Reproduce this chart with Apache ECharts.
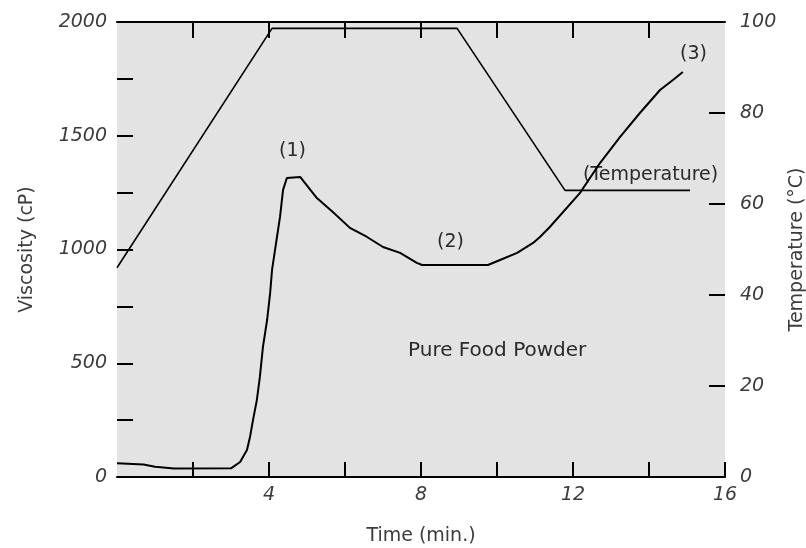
<!DOCTYPE html>
<html>
<head>
<meta charset="utf-8">
<script src="https://cdn.jsdelivr.net/npm/echarts@6/dist/echarts.min.js"></script>
<style>
html,body{margin:0;padding:0;background:#fff;}
#chart{width:806px;height:548px;}
</style>
</head>
<body>
<div id="chart"></div>
<script>
// Time (min.) and viscosity (cP) of the viscosity curve
var viscTime  = [0, 0.7, 1.0, 1.5, 3.0, 3.24, 3.42, 3.5, 3.58, 3.68, 3.76, 3.84, 3.95, 4.03, 4.08, 4.21, 4.29, 4.37, 4.47, 4.5, 4.82, 5.26, 5.68, 6.13, 6.58, 7.0, 7.45, 7.89, 8.03, 9.76, 10.08, 10.53, 10.95, 11.13, 11.39, 12.18, 12.71, 13.24, 13.76, 14.29, 14.63, 14.89];
var viscValue = [60, 55, 45, 37, 38, 66, 119, 176, 251, 338, 440, 571, 690, 809, 910, 1055, 1143, 1262, 1314, 1319, 1319, 1226, 1165, 1095, 1055, 1011, 985, 941, 932, 932, 954, 985, 1029, 1055, 1099, 1248, 1380, 1495, 1600, 1701, 1745, 1780];
// Temperature (°C) profile
var tempTime  = [0, 4.08, 8.95, 11.79, 15.08];
var tempValue = [46, 98.6, 98.6, 63, 63];
// Tick labels and tick positions
var xTickLabels = [4, 8, 12, 16];
var xBottomTicks = [2, 4, 6, 8, 10, 12, 14, 16];
var xTopTicks = [2, 4, 6, 8, 10, 12, 14];
var yLeftTickLabels = [0, 500, 1000, 1500, 2000];
var yRightTickLabels = [0, 20, 40, 60, 80, 100];

var viscData = viscTime.map(function (t, i) { return [t, viscValue[i]]; });
var tempData = tempTime.map(function (t, i) { return [t, tempValue[i]]; });

var FONT = 'DejaVu Sans';
var TXT = '#3c3c3c';
var ANN = '#2a2a2a';

var chart = echarts.init(document.getElementById('chart'), null, {renderer: 'canvas'});
chart.setOption({
  animation: false,
  backgroundColor: '#fff',
  grid: {left: 117, right: 81, top: 22, bottom: 71, show: true, backgroundColor: '#e3e3e3', borderWidth: 0,
         containLabel: false, outerBoundsMode: 'none'},
  xAxis: [{
    type: 'value', min: 0, max: 16, interval: 2, position: 'bottom',
    name: 'Time (min.)', nameLocation: 'middle', nameGap: 50,
    nameTextStyle: {fontFamily: FONT, fontSize: 19, color: TXT},
    axisLine: {show: true, onZero: false, lineStyle: {color: '#000', width: 2}},
    axisTick: {show: true, inside: true, length: 15, customValues: xBottomTicks, lineStyle: {color: '#000', width: 2}},
    splitLine: {show: false},
    axisLabel: {
      margin: 9, fontFamily: FONT, fontSize: 19, fontStyle: 'italic', color: TXT,
      formatter: function (v) { return xTickLabels.indexOf(v) >= 0 ? String(v) : ''; }
    }
  }, {
    type: 'value', min: 0, max: 16, interval: 2, position: 'top',
    axisLine: {show: true, onZero: false, lineStyle: {color: '#000', width: 2}},
    axisTick: {show: true, inside: true, length: 16, customValues: xTopTicks, lineStyle: {color: '#000', width: 2}},
    splitLine: {show: false},
    axisLabel: {show: false}
  }],
  yAxis: [{
    type: 'value', min: 0, max: 2000, interval: 250, position: 'left',
    name: 'Viscosity (cP)', nameLocation: 'middle', nameGap: 80, nameRotate: 90,
    nameTextStyle: {fontFamily: FONT, fontSize: 19, color: TXT},
    axisLine: {show: false, onZero: false},
    axisTick: {show: true, inside: true, length: 16, lineStyle: {color: '#000', width: 2}},
    splitLine: {show: false},
    axisLabel: {
      margin: 10, fontFamily: FONT, fontSize: 19, fontStyle: 'italic', color: TXT,
      formatter: function (v) { return yLeftTickLabels.indexOf(v) >= 0 ? String(v) : ''; }
    }
  }, {
    type: 'value', min: 0, max: 100, interval: 20, position: 'right',
    name: 'Temperature (°C)', nameLocation: 'middle', nameGap: 58, nameRotate: 90,
    nameTextStyle: {fontFamily: FONT, fontSize: 19, color: TXT},
    axisLine: {show: false, onZero: false},
    axisTick: {show: true, inside: true, length: 16, lineStyle: {color: '#000', width: 2}},
    splitLine: {show: false},
    axisLabel: {
      margin: 15, fontFamily: FONT, fontSize: 19, fontStyle: 'italic', color: TXT,
      formatter: function (v) { return yRightTickLabels.indexOf(v) >= 0 ? String(v) : ''; }
    }
  }],
  series: [{
    name: 'Viscosity', type: 'line', xAxisIndex: 0, yAxisIndex: 0,
    data: viscData, showSymbol: false, symbol: 'none',
    lineStyle: {color: '#000', width: 2}
  }, {
    name: 'Temperature', type: 'line', xAxisIndex: 0, yAxisIndex: 1,
    data: tempData, showSymbol: false, symbol: 'none',
    lineStyle: {color: '#000', width: 1.6}
  }],
  graphic: [
    {type: 'text', left: 279, top: 142, style: {text: '(1)', font: '19px "DejaVu Sans"', fill: ANN}},
    {type: 'text', left: 437, top: 233, style: {text: '(2)', font: '19px "DejaVu Sans"', fill: ANN}},
    {type: 'text', left: 680, top: 45, style: {text: '(3)', font: '19px "DejaVu Sans"', fill: ANN}},
    {type: 'text', left: 583, top: 166, style: {text: '(Temperature)', font: '19px "DejaVu Sans"', fill: ANN}},
    {type: 'text', left: 408, top: 341, style: {text: 'Pure Food Powder', font: '20px "DejaVu Sans"', fill: ANN}}
  ]
});
</script>
</body>
</html>
